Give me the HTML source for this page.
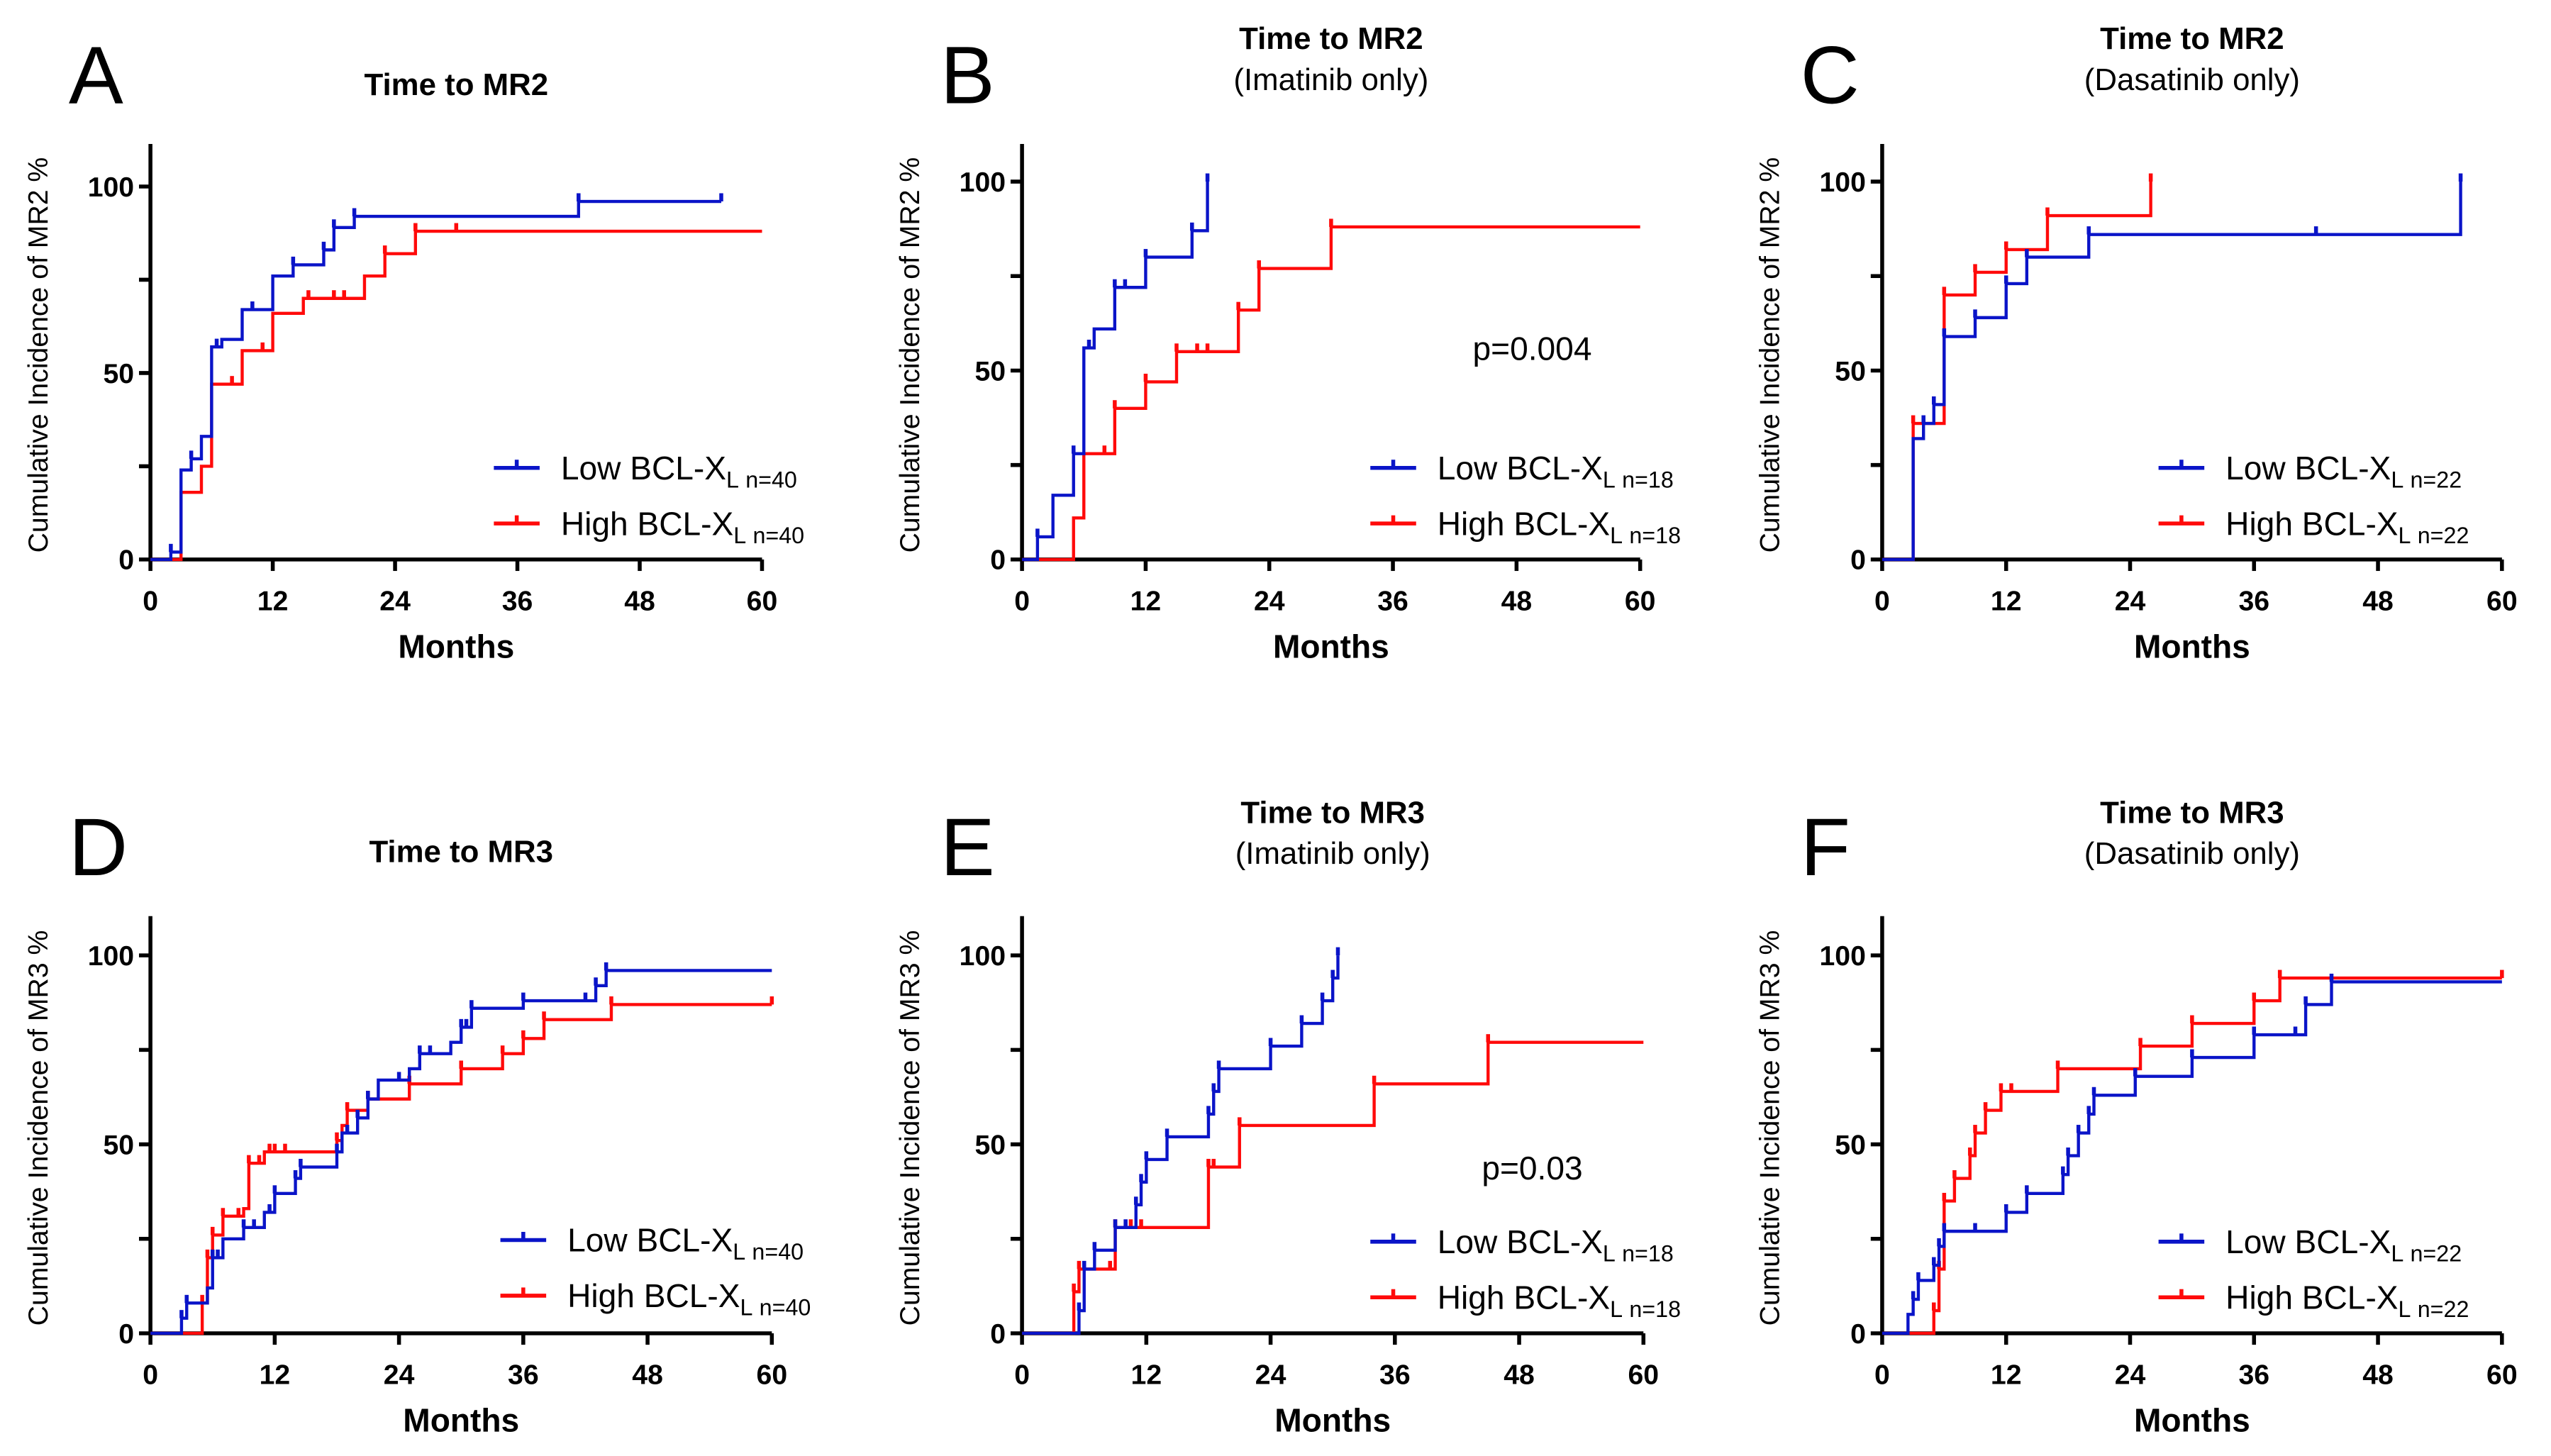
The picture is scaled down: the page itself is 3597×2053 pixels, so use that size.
<!DOCTYPE html>
<html><head><meta charset="utf-8">
<style>
html,body{margin:0;padding:0;background:#fff;}
svg{display:block;font-family:"Liberation Sans",Arial,sans-serif;}
</style></head>
<body>
<svg id="fig" width="3597" height="2053" viewBox="0 0 1560 890" preserveAspectRatio="none" xmlns="http://www.w3.org/2000/svg"></svg>
<script>
// ---- data (months, cumulative incidence %) ----
const aLowT=[0,2,3,4,5,6,7,9,12,14,17,18,20,42]; const aLowV=[0,2,24,27,33,57,59,67,76,79,83,89,92,96]; const aLowEnd=56; const aLowC=[2,4,6.5,10,14,17,18,20,42,56];
const aHighT=[0,3,5,6,9,12,15,21,23,26]; const aHighV=[0,18,25,47,56,66,70,76,82,88]; const aHighEnd=60; const aHighC=[8,11,15.5,18,19,23,26,30];
const bLowT=[0,1.5,3,5,6,7,9,12,16.5,18]; const bLowV=[0,6,17,28,56,61,72,80,87,100]; const bLowEnd=18; const bLowC=[1.5,5,6.5,9,10,12,16.5,18];
const bHighT=[0,5,6,9,12,15,21,23,30]; const bHighV=[0,11,28,40,47,55,66,77,88]; const bHighEnd=60; const bHighC=[8,9,12,15,17,18,21,23,30];
const cLowT=[0,3,4,5,6,9,12,14,20,56]; const cLowV=[0,32,36,41,59,64,73,80,86,100]; const cLowEnd=56; const cLowC=[4,5,6,9,12,14,20,42,56];
const cHighT=[0,3,6,9,12,16,26]; const cHighV=[0,36,70,76,82,91,100]; const cHighEnd=26; const cHighC=[3,6,9,12,16,26];
const dLowT=[0,3,3.5,5.5,6,7,9,11,12,14,14.5,18,18.5,20,21,22,25,26,29,30,31,36,43,44]; const dLowV=[0,4,8,12,20,25,28,32,37,41,44,48,53,57,62,67,70,74,77,81,86,88,92,96]; const dLowEnd=60; const dLowC=[3,3.5,6,6.5,9,10,11.5,12,14,14.5,18,19,20,21,24,26,27,30,30.5,31,36,42,43,44];
const dHighT=[0,5,5.5,6,7,9,9.5,11,18,18.5,19,21,25,30,34,36,38,44.5]; const dHighV=[0,8,20,26,31,33,45,48,51,55,59,62,66,70,74,78,83,87]; const dHighEnd=60; const dHighC=[5,5.5,6,7,8.5,9.5,10.5,11.5,12,13,18,19,21,25,30,34,36,38,44.5,60];
const eLowT=[0,5.5,6,7,9,11,11.5,12,14,18,18.5,19,24,27,29,30,30.5]; const eLowV=[0,6,17,22,28,34,40,46,52,58,64,70,76,82,88,94,100]; const eLowEnd=30.5; const eLowC=[5.5,6,7,9,10,11,11.5,12,14,18,18.5,19,24,27,29,30,30.5];
const eHighT=[0,5,5.5,9,18,21,34,45]; const eHighV=[0,11,17,28,44,55,66,77]; const eHighEnd=60; const eHighC=[5,5.5,8.5,9,10.5,11.5,18,18.5,21,34,45];
const fLowT=[0,2.5,3,3.5,5,5.5,6,12,14,17.5,18,19,20,20.5,24.5,30,36,41,43.5]; const fLowV=[0,5,9,14,18,23,27,32,37,42,47,53,58,63,68,73,79,87,93]; const fLowEnd=60; const fLowC=[3,3.5,5,5.5,6,9,12,14,17.5,18,19,20,20.5,24.5,30,36,40,41,43.5];
const fHighT=[0,5,5.5,6,7,8.5,9,10,11.5,17,25,30,36,38.5]; const fHighV=[0,6,17,35,41,47,53,59,64,70,76,82,88,94]; const fHighEnd=60; const fHighC=[5,5.5,6,7,8.5,9,10,11.5,12.5,17,25,30,36,38.5,60];
const xTicks=[0,12,24,36,48,60]; const yTicks=[0,25,50,75,100]; const yLabels=["0","","50","","100"];

const panels=[
 {id:'a',L:'A',t1:'Time to MR2',t2:null,x0:92,x1:466,y0:342,y100:114,top:88,yl:'Cumulative Incidence of MR2 %',lowT:aLowT,lowV:aLowV,lowEnd:aLowEnd,lowC:aLowC,highT:aHighT,highV:aHighV,highEnd:aHighEnd,highC:aHighC,n:'n=40',leg:[302,286],p:null},
 {id:'b',L:'B',t1:'Time to MR2',t2:'(Imatinib only)',x0:625,x1:1003,y0:342,y100:111,top:88,yl:'Cumulative Incidence of MR2 %',lowT:bLowT,lowV:bLowV,lowEnd:bLowEnd,lowC:bLowC,highT:bHighT,highV:bHighV,highEnd:bHighEnd,highC:bHighC,n:'n=18',leg:[838,286],p:'p=0.004'},
 {id:'c',L:'C',t1:'Time to MR2',t2:'(Dasatinib only)',x0:1151,x1:1530,y0:342,y100:111,top:88,yl:'Cumulative Incidence of MR2 %',lowT:cLowT,lowV:cLowV,lowEnd:cLowEnd,lowC:cLowC,highT:cHighT,highV:cHighV,highEnd:cHighEnd,highC:cHighC,n:'n=22',leg:[1320,286],p:null},
 {id:'d',L:'D',t1:'Time to MR3',t2:null,x0:92,x1:472,y0:815,y100:584,top:560,yl:'Cumulative Incidence of MR3 %',lowT:dLowT,lowV:dLowV,lowEnd:dLowEnd,lowC:dLowC,highT:dHighT,highV:dHighV,highEnd:dHighEnd,highC:dHighC,n:'n=40',leg:[306,758],p:null},
 {id:'e',L:'E',t1:'Time to MR3',t2:'(Imatinib only)',x0:625,x1:1005,y0:815,y100:584,top:560,yl:'Cumulative Incidence of MR3 %',lowT:eLowT,lowV:eLowV,lowEnd:eLowEnd,lowC:eLowC,highT:eHighT,highV:eHighV,highEnd:eHighEnd,highC:eHighC,n:'n=18',leg:[838,759],p:'p=0.03'},
 {id:'f',L:'F',t1:'Time to MR3',t2:'(Dasatinib only)',x0:1151,x1:1530,y0:815,y100:584,top:560,yl:'Cumulative Incidence of MR3 %',lowT:fLowT,lowV:fLowV,lowEnd:fLowEnd,lowC:fLowC,highT:fHighT,highV:fHighV,highEnd:fHighEnd,highC:fHighC,n:'n=22',leg:[1320,759],p:null}
];
const NS='http://www.w3.org/2000/svg';
const svg=document.getElementById('fig');
function mk(tag,attrs,parent,txt){const e=document.createElementNS(NS,tag);for(const k in attrs)e.setAttribute(k,attrs[k]);if(txt!==undefined)e.textContent=txt;parent.appendChild(e);return e;}
const BLUE='#0a14c8', RED='#ff0a0a';
panels.forEach(P=>{
  const g=mk('g',{},svg);
  
  
  const sx=t=>P.x0+(P.x1-P.x0)*t/60;
  const sy=v=>P.y0+(P.y100-P.y0)*v/100;
  const cx=(P.x0+P.x1)/2;
  const L=mk('text',{x:P.x0-50,y:P.id<'d'?63:535,'font-size':50,fill:'#000','text-anchor':'start'},g,P.L);
  
  
  const tt=mk('text',{x:cx,y:P.t2?(P.y0<400?30:503):(P.y0<400?58:527),'font-size':19,'font-weight':'bold','text-anchor':'middle'},g,P.t1);
  
  
  if(P.t2){const s=mk('text',{x:cx,y:P.y0<400?55:528,'font-size':19,'text-anchor':'middle'},g,P.t2);
    
    }
  const ax=mk('path',{d:`M${P.x0},${P.top}V${P.y0}H${P.x1}`,stroke:'#000','stroke-width':2.4,fill:'none'},g);
  
  
  xTicks.forEach(t=>{
    mk('line',{x1:sx(t),x2:sx(t),y1:P.y0,y2:P.y0+7,stroke:'#000','stroke-width':2.4},g);
    const l=mk('text',{x:sx(t),y:P.y0+31,'font-size':17,'font-weight':'bold','text-anchor':'middle'},g,String(t));
    
    
  });
  yTicks.forEach((v,i)=>{
    mk('line',{x1:P.x0-7,x2:P.x0,y1:sy(v),y2:sy(v),stroke:'#000','stroke-width':2.4},g);
    if(yLabels[i]){const l=mk('text',{x:P.x0-10,y:sy(v)+6,'font-size':17,'font-weight':'bold','text-anchor':'end'},g,yLabels[i]);
      
      }
  });
  const xt=mk('text',{x:cx,y:P.y0+60,'font-size':20,'font-weight':'bold','text-anchor':'middle'},g,'Months');
  
  
  const yc=(P.top+P.y0)/2+2, yx=P.x0-63;
  const yt=mk('text',{x:yx,y:yc,'font-size':17,'text-anchor':'middle',transform:`rotate(-90 ${yx} ${yc})`},g,P.yl);
  
  
  function series(T,V,end,C,col,name){
    let d=`M${sx(T[0])},${sy(V[0])}`;
    for(let i=1;i<T.length;i++){d+=`H${sx(T[i])}V${sy(V[i])}`;}
    d+=`H${sx(end)}`;
    const p=mk('path',{d:d,stroke:col,'stroke-width':1.9,fill:'none'},g);
    
    
    C.forEach(c=>{
      let v=V[0];for(let i=0;i<T.length;i++){if(T[i]<=c)v=V[i];}
      const m=mk('line',{x1:sx(c),x2:sx(c),y1:sy(v),y2:sy(v)-5,stroke:col,'stroke-width':2.4},g);
      
      
    });
  }
  series(P.highT,P.highV,P.highEnd,P.highC,RED,'high-bclxl');
  series(P.lowT,P.lowV,P.lowEnd,P.lowC,BLUE,'low-bclxl');
  if(P.p){const pt=mk('text',{x:937,y:P.y0<400?220:721,'font-size':20,'text-anchor':'middle'},g,P.p);
    
    }
  [[BLUE,'Low',0],[RED,'High',34]].forEach(([col,lab,dy])=>{
    const lg=mk('g',{},g);
    
    
    const x=P.leg[0],y=P.leg[1]+dy;
    mk('line',{x1:x,x2:x+28,y1:y,y2:y,stroke:col,'stroke-width':2.4},lg);
    mk('line',{x1:x+14,x2:x+14,y1:y,y2:y-5,stroke:col,'stroke-width':2.4},lg);
    const t=mk('text',{x:x+41,y:y+7,'font-size':20},lg);
    mk('tspan',{},t,lab+' BCL-X');
    mk('tspan',{'font-size':14,dy:5},t,'L');
    mk('tspan',{'font-size':14,dx:4},t,P.n);
  });
});
</script>
</body></html>
